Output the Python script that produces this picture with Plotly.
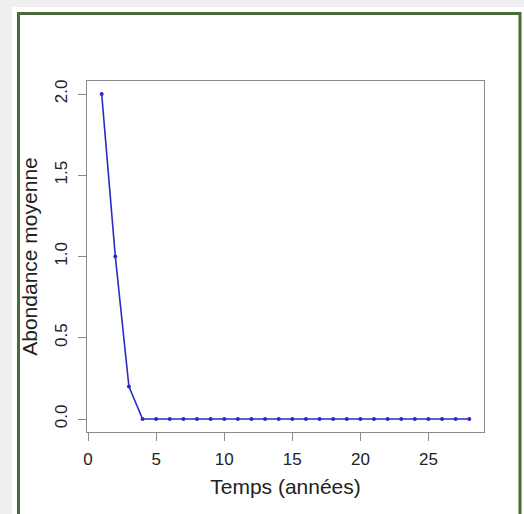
import plotly.graph_objects as go

# Mean abundance per year
annees = list(range(1, 29))
abondance = [2.0, 1.0, 0.2] + [0.0] * 25

x_ticks = [0, 5, 10, 15, 20, 25]
y_ticks = [0.0, 0.5, 1.0, 1.5, 2.0]
y_tick_labels = ["0.0", "0.5", "1.0", "1.5", "2.0"]

W, H = 524, 514
L, R, T, B = 87, 40, 81, 82
pw, ph = W - L - R, H - T - B


def px(x):
    return (x - L) / pw


def py(y):
    return (H - B - y) / ph


fig = go.Figure()
fig.add_trace(go.Scatter(
    x=annees, y=abondance, mode="lines+markers",
    line=dict(color="#2b2bc4", width=1.6),
    marker=dict(color="#2b2bc4", size=4),
    showlegend=False,
))

font = "Liberation Sans, Arial, Helvetica, sans-serif"
axis_common = dict(
    showgrid=False, zeroline=False, showline=True, mirror=True,
    linecolor="#8a8a8a", linewidth=1.3,
    ticks="outside", ticklen=8, tickwidth=1.2, tickcolor="#8a8a8a",
    tickfont=dict(family=font, size=17, color="#222222"),
)

fig.update_layout(
    width=W, height=H,
    margin=dict(l=L, r=R, t=T, b=B),
    paper_bgcolor="white", plot_bgcolor="white",
    xaxis=dict(
        range=[-0.08, 29.08], tickvals=x_ticks,
        ticklabelstandoff=3,
        title=dict(text="Temps (années)", font=dict(family=font, size=21, color="#222222"), standoff=11),
        **axis_common,
    ),
    yaxis=dict(
        range=[-0.08, 2.08], tickvals=y_ticks, ticktext=y_tick_labels,
        tickangle=-90, ticklabelstandoff=4,
        title=dict(text="Abondance moyenne", font=dict(family=font, size=21, color="#222222"), standoff=8),
        **axis_common,
    ),
    shapes=[
        # light gray page edges
        dict(type="rect", xref="paper", yref="paper", x0=px(0), x1=px(W), y0=py(0), y1=py(7),
             fillcolor="#efefef", line=dict(width=0), layer="below"),
        dict(type="rect", xref="paper", yref="paper", x0=px(0), x1=px(12), y0=py(0), y1=py(H),
             fillcolor="#efefef", line=dict(width=0), layer="below"),
        # green frame
        dict(type="rect", xref="paper", yref="paper", x0=px(18.5), x1=px(520), y0=py(13.5), y1=py(H + 20),
             fillcolor="rgba(0,0,0,0)", line=dict(color="#4a6a38", width=3), layer="below"),
    ],
)

fig.write_html("out.html")
